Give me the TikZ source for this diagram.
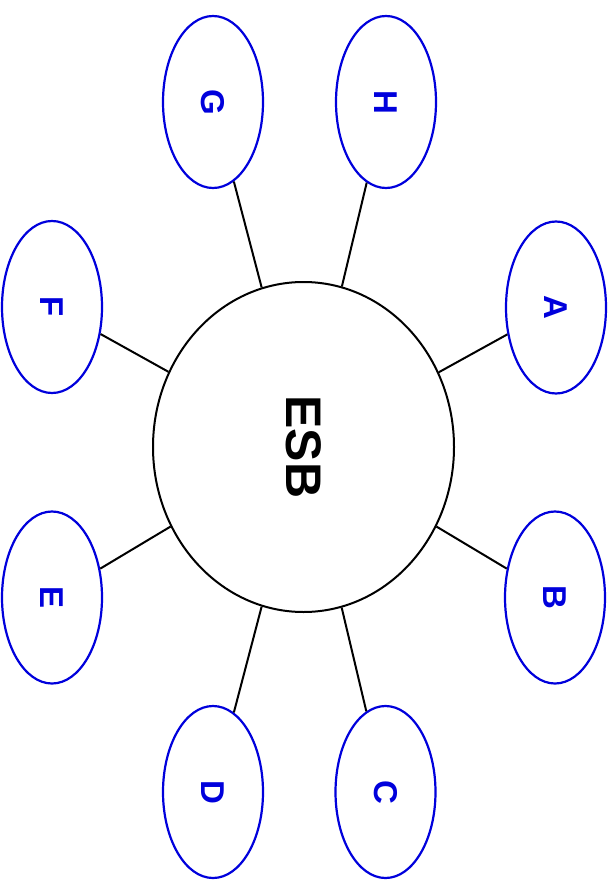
\documentclass[tikz,border=0pt]{standalone}
\usepackage{fontspec}
\setmainfont{Liberation Sans}
\usetikzlibrary{shapes.geometric}
\definecolor{nodeblue}{RGB}{0,0,220}
\begin{document}
\begin{tikzpicture}[x=1pt,y=-1pt,
  hub/.style={ellipse,draw=black,line width=2pt,rotate=-90,minimum width=330pt,minimum height=301pt,inner sep=0pt,font=\fontsize{50}{50}\selectfont\bfseries},
  leaf/.style={ellipse,draw=nodeblue,line width=2.2pt,rotate=-90,minimum width=172pt,minimum height=100pt,inner sep=0pt,text=nodeblue,font=\fontsize{33}{33}\selectfont\bfseries},
  link/.style={draw=black,line width=2pt}]
\useasboundingbox (0,0) rectangle (613,896);
\node[hub] (esb) at (303.5,447) {ESB};
\node[leaf] (a) at (556,307.5) {A};
\node[leaf] (b) at (555,597.5) {B};
\node[leaf] (c) at (385.5,792) {C};
\node[leaf] (d) at (213,792) {D};
\node[leaf] (e) at (52,597.5) {E};
\node[leaf] (f) at (52,307) {F};
\node[leaf] (g) at (213,102) {G};
\node[leaf] (h) at (386,102) {H};
\foreach \n in {a,b,c,d,e,f,g,h} {\path[link] (esb) -- (\n);}
\end{tikzpicture}
\end{document}
